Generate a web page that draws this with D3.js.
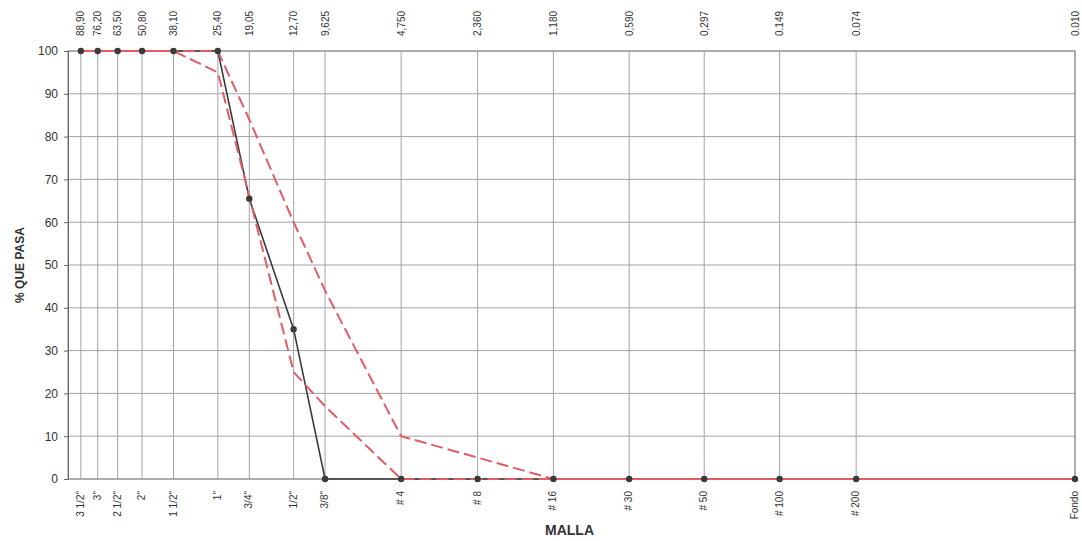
<!DOCTYPE html>
<html>
<head>
<meta charset="utf-8">
<script src="https://cdn.jsdelivr.net/npm/d3@7"></script>
<style>
  body { margin: 0; background: #fff; }
  text { font-family: "Liberation Sans", Arial, sans-serif; fill: #333; }
</style>
</head>
<body>
<script>
// sieve names, openings (mm) and the labels printed on top
const sieves = ['3 1/2"', '3"', '2 1/2"', '2"', '1 1/2"', '1"', '3/4"', '1/2"', '3/8"',
  '# 4', '# 8', '# 16', '# 30', '# 50', '# 100', '# 200', 'Fondo'];
const openings = [88.9, 76.2, 63.5, 50.8, 38.1, 25.4, 19.05, 12.7, 9.525,
  4.75, 2.36, 1.18, 0.59, 0.297, 0.149, 0.074, 0.01];
const openingLabels = ["88,90", "76,20", "63,50", "50,80", "38,10", "25,40", "19,05", "12,70", "9,625",
  "4,750", "2,360", "1,180", "0,590", "0,297", "0.149", "0.074", "0.010"];

// % que pasa
const passing    = [100, 100, 100, 100, 100, 100, 65.5, 35, 0, 0, 0, 0, 0, 0, 0, 0, 0];
const upperLimit = [100, 100, 100, 100, 100, 100, 84, 60, 44, 10, 5, 0, 0, 0, 0, 0, 0];
const lowerLimit = [100, 100, 100, 100, 100, 95, 66, 25, 17, 0, 0, 0, 0, 0, 0, 0, 0];

const yTicks = d3.range(0, 101, 10);

const W = 1082, H = 541;
const margin = { top: 51, right: 7, bottom: 62, left: 68 };
const width = W - margin.left - margin.right;
const height = H - margin.top - margin.bottom;

const svg = d3.select("body").append("svg")
  .attr("width", W)
  .attr("height", H);

const g = svg.append("g").attr("transform", `translate(${margin.left},${margin.top})`);

const x = d3.scaleLog().domain([100, 0.01]).range([0, width]);
const y = d3.scaleLinear().domain([0, 100]).range([height, 0]);

// horizontal grid
g.selectAll(".hgrid")
  .data(yTicks)
  .join("line")
  .attr("x1", 0).attr("x2", width)
  .attr("y1", d => y(d)).attr("y2", d => y(d))
  .attr("stroke", "#a3a3a3")
  .attr("stroke-width", 1);

// vertical grid at each sieve
g.selectAll(".vgrid")
  .data(openings)
  .join("line")
  .attr("x1", d => x(d)).attr("x2", d => x(d))
  .attr("y1", 0).attr("y2", height)
  .attr("stroke", "#a3a3a3")
  .attr("stroke-width", 1);

// frame
g.append("rect")
  .attr("width", width).attr("height", height)
  .attr("fill", "none")
  .attr("stroke", "#888");

// y axis
const yAxis = g.append("g")
  .call(d3.axisLeft(y).tickValues(yTicks).tickSize(4).tickPadding(6));
yAxis.select(".domain").attr("stroke", "#666");
yAxis.selectAll(".tick line").attr("stroke", "#666");
yAxis.selectAll(".tick text").attr("font-size", 12).attr("fill", "#333")
  .style("font-family", "'Liberation Sans', Arial, sans-serif");

// top labels (openings in mm)
g.selectAll(".toplab")
  .data(openings)
  .join("text")
  .attr("transform", d => `translate(${x(d) + 3.5},${-15}) rotate(-90)`)
  .attr("text-anchor", "start")
  .attr("font-size", 10)
  .text((d, i) => openingLabels[i]);

// bottom labels (sieve names)
g.selectAll(".botlab")
  .data(openings)
  .join("text")
  .attr("transform", d => `translate(${x(d) + 3},${height + 12}) rotate(-90)`)
  .attr("text-anchor", "end")
  .attr("font-size", 10)
  .text((d, i) => sieves[i]);

// axis titles
svg.append("text")
  .attr("x", margin.left + width / 2 - 2)
  .attr("y", 535)
  .attr("text-anchor", "middle")
  .attr("font-size", 14)
  .attr("font-weight", "bold")
  .text("MALLA");

svg.append("text")
  .attr("transform", `translate(24,${margin.top + height / 2}) rotate(-90)`)
  .attr("text-anchor", "middle")
  .attr("font-size", 12)
  .attr("font-weight", "bold")
  .text("% QUE PASA");

const line = d3.line()
  .x(d => x(d[0]))
  .y(d => y(d[1]));

const pts = arr => openings.map((o, i) => [o, arr[i]]);

// measured curve
g.append("path")
  .datum(pts(passing))
  .attr("fill", "none")
  .attr("stroke", "#3a3a3a")
  .attr("stroke-width", 1.6)
  .attr("d", line);

// limits (dashed, offset so overlaps read as solid)
g.append("path")
  .datum(pts(upperLimit))
  .attr("fill", "none")
  .attr("stroke", "#e25c66")
  .attr("stroke-width", 2)
  .attr("stroke-dasharray", "12,5")
  .attr("d", line);

g.append("path")
  .datum(pts(lowerLimit))
  .attr("fill", "none")
  .attr("stroke", "#e25c66")
  .attr("stroke-width", 2)
  .attr("stroke-dasharray", "12,5")
  .attr("stroke-dashoffset", 8)
  .attr("d", line);

// markers
g.selectAll(".pt")
  .data(pts(passing))
  .join("circle")
  .attr("cx", d => x(d[0]))
  .attr("cy", d => y(d[1]))
  .attr("r", 3.2)
  .attr("fill", "#3a3a3a");
</script>
</body>
</html>
